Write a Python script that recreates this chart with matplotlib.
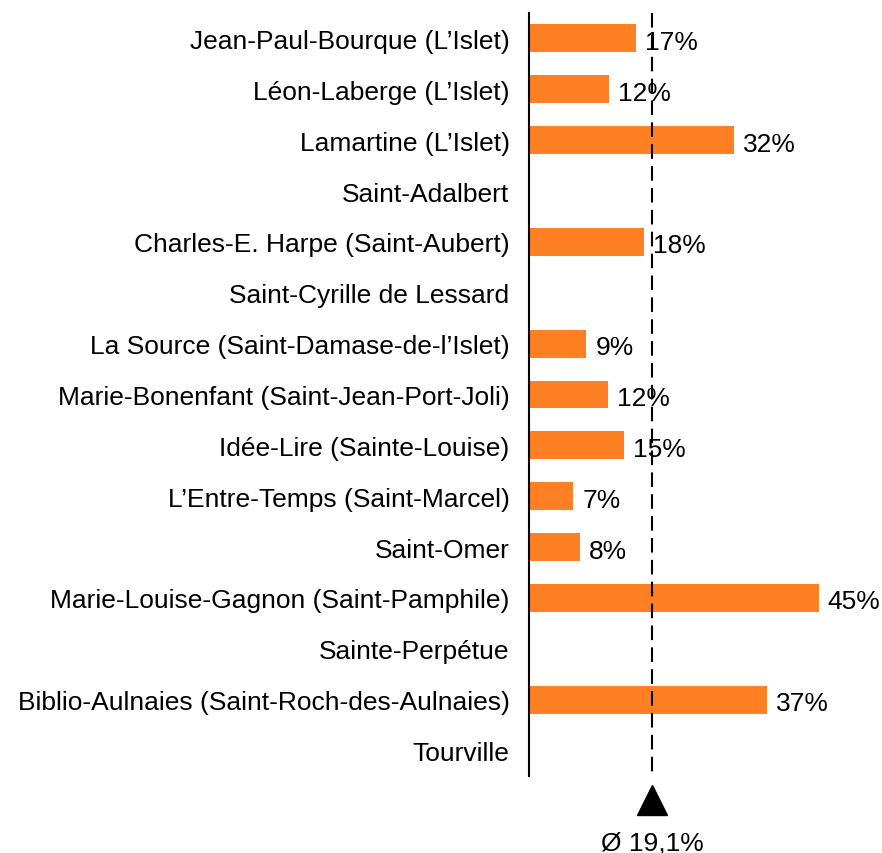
import matplotlib
matplotlib.use("Agg")
import matplotlib.pyplot as plt
import numpy as np

categories = [
    "Jean-Paul-Bourque (L\u2019Islet)",
    "L\u00e9on-Laberge (L\u2019Islet)",
    "Lamartine (L\u2019Islet)",
    "Saint-Adalbert",
    "Charles-E. Harpe (Saint-Aubert)",
    "Saint-Cyrille de Lessard",
    "La Source (Saint-Damase-de-l\u2019Islet)",
    "Marie-Bonenfant (Saint-Jean-Port-Joli)",
    "Id\u00e9e-Lire (Sainte-Louise)",
    "L\u2019Entre-Temps (Saint-Marcel)",
    "Saint-Omer",
    "Marie-Louise-Gagnon (Saint-Pamphile)",
    "Sainte-Perp\u00e9tue",
    "Biblio-Aulnaies (Saint-Roch-des-Aulnaies)",
    "Tourville",
]
values = [16.6, 12.4, 31.8, None, 17.8, None, 8.9, 12.2, 14.8, 6.9, 7.9, 45.0, None, 37.0, None]
labels = ["17%", "12%", "32%", "", "18%", "", "9%", "12%", "15%", "7%", "8%", "45%", "", "37%", ""]
average = 19.1
average_label = "\u00d8 19,1%"

plt.rcParams['font.family'] = ['Liberation Sans', 'DejaVu Sans']
FS = 19

W, H = 882, 854
fig = plt.figure(figsize=(W / 100, H / 100), dpi=100)
left, right, top, bottom = 529, 851, 14, 777
ax = fig.add_axes([left / W, 1 - bottom / H, (right - left) / W, (bottom - top) / H])

y = np.arange(len(categories))
vals = [v if v is not None else 0 for v in values]
ax.barh(y, vals, height=0.55, color="#FF8022", edgecolor="none", zorder=2)
for yi, v, lab in zip(y, vals, labels):
    if lab:
        ax.annotate(lab, (v, yi), xytext=(6.5, -2.5), textcoords="offset points",
                    va="center", ha="left", fontsize=FS, color="black", zorder=4)

ax.set_xlim(0, 50)
ax.set_ylim(len(categories) - 0.5, -0.5)
ax.set_yticks(y)
ax.set_yticklabels(categories, fontsize=FS)
ax.tick_params(axis="y", length=0, pad=14)
ax.set_xticks([])
for s in ["top", "right", "bottom"]:
    ax.spines[s].set_visible(False)
ax.spines["left"].set_linewidth(1.5)
ax.spines["left"].set_color("black")

# average dashed line
ax.plot([average, average], [-0.5, len(categories) - 0.5], color="black",
        lw=1.5, linestyle=(0, (7, 3.5)), zorder=3, clip_on=False)
# triangle marker and label below
ax.plot([average], [len(categories) - 0.02], marker="^", markersize=21, color="black",
        clip_on=False, zorder=5)
ax.text(average, len(categories) + 0.8, average_label, ha="center", va="center",
        fontsize=FS, clip_on=False)

fig.savefig("out.png", dpi=100)
